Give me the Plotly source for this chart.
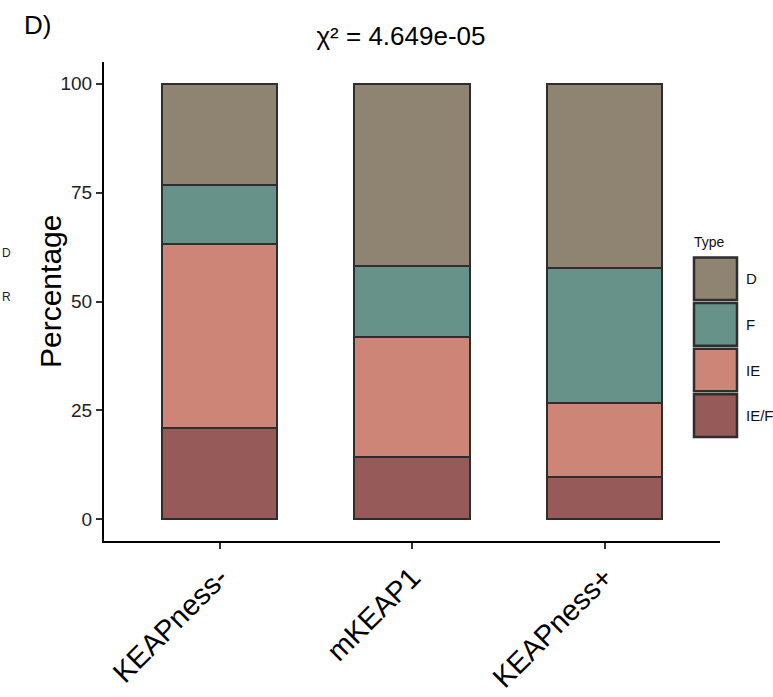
import plotly.graph_objects as go

# Stacked composition of tumour types per KEAP1 group
groups = ["KEAPness-", "mKEAP1", "KEAPness+"]
types = ["IE/F", "IE", "F", "D"]  # bottom to top
pct_ief = [20.9, 14.2, 9.7]
pct_ie = [42.4, 27.7, 16.9]
pct_f = [13.5, 16.3, 31.2]
pct_d = [23.2, 41.8, 42.2]
values = {"IE/F": pct_ief, "IE": pct_ie, "F": pct_f, "D": pct_d}
colors = {"D": "#8F8372", "F": "#67928A", "IE": "#CC8577", "IE/F": "#965A58"}
edge = "#2E2E2E"
font = "Liberation Sans, Arial, sans-serif"

fig = go.Figure()
for t in types:
    fig.add_trace(go.Bar(
        x=[1, 2, 3], y=values[t], name=t, width=0.6,
        marker=dict(color=colors[t], line=dict(color=edge, width=2)),
        showlegend=False,
    ))

W, H = 773, 697
ml, mr, mt, mb = 104, 53, 62, 156
pw, ph = W - ml - mr, H - mt - mb

def px(x):
    return (x - ml) / pw

def py(y):
    return (H - mb - y) / ph

# Legend: title, keys and labels
shapes = []
annotations = [
    dict(text="Type", x=px(692), y=py(242), xref="paper", yref="paper",
         xanchor="left", yanchor="middle", showarrow=False,
         font=dict(size=14, color="#111", family=font)),
]
key_top = 256
key_h = 45.6
for i, t in enumerate(["D", "F", "IE", "IE/F"]):
    y0 = key_top + i * key_h
    shapes.append(dict(type="rect", xref="paper", yref="paper",
                       x0=px(694), x1=px(737), y0=py(y0 + 1.5), y1=py(y0 + key_h - 1.5),
                       fillcolor=colors[t], line=dict(color=edge, width=2.5)))
    annotations.append(dict(text=t, x=px(744), y=py(y0 + key_h / 2), xref="paper", yref="paper",
                            xanchor="left", yanchor="middle", showarrow=False,
                            font=dict(size=15, color="#111", family=font)))

# Y axis title
annotations.append(dict(text="Percentage", x=px(50), y=py(292), xref="paper", yref="paper",
                        xanchor="center", yanchor="middle", showarrow=False, textangle=-90,
                        font=dict(size=30, color="#000", family=font)))

# Panel letter and labels of the neighbouring panel
annotations.append(dict(text="D)", x=px(22), y=py(25), xref="paper", yref="paper",
                        xanchor="left", yanchor="middle", showarrow=False,
                        font=dict(size=26, color="#000", family=font)))
for lab, yy in [("D", 253), ("R", 297)]:
    annotations.append(dict(text=lab, x=px(0), y=py(yy), xref="paper", yref="paper",
                            xanchor="left", yanchor="middle", showarrow=False,
                            font=dict(size=12, color="#222", family=font)))

fig.update_layout(
    width=W, height=H,
    margin=dict(l=ml, r=mr, t=mt, b=mb, autoexpand=False),
    barmode="stack",
    plot_bgcolor="white", paper_bgcolor="white",
    font=dict(family=font, color="#000"),
    title=dict(text="χ² = 4.649e-05", x=px(401), xref="paper", xanchor="center",
               y=1 - 36 / H, yanchor="middle",
               font=dict(size=26, color="#000", family=font)),
    xaxis=dict(range=[0.4, 3.6], tickmode="array", tickvals=[1, 2, 3], ticktext=groups,
               tickangle=-45, tickfont=dict(size=29, color="#000"), automargin=False,
               showline=True, linecolor="#000", linewidth=2, ticks="outside",
               ticklen=6, tickwidth=1.5, tickcolor="#333", showgrid=False, zeroline=False),
    yaxis=dict(range=[-5, 105], tickvals=[0, 25, 50, 75, 100], automargin=False,
               tickfont=dict(size=19, color="#222"),
               showline=True, linecolor="#000", linewidth=2, ticks="outside",
               ticklen=6, tickwidth=1.5, tickcolor="#333", showgrid=False, zeroline=False),
    shapes=shapes,
    annotations=annotations,
)

fig.write_html("out.html")
